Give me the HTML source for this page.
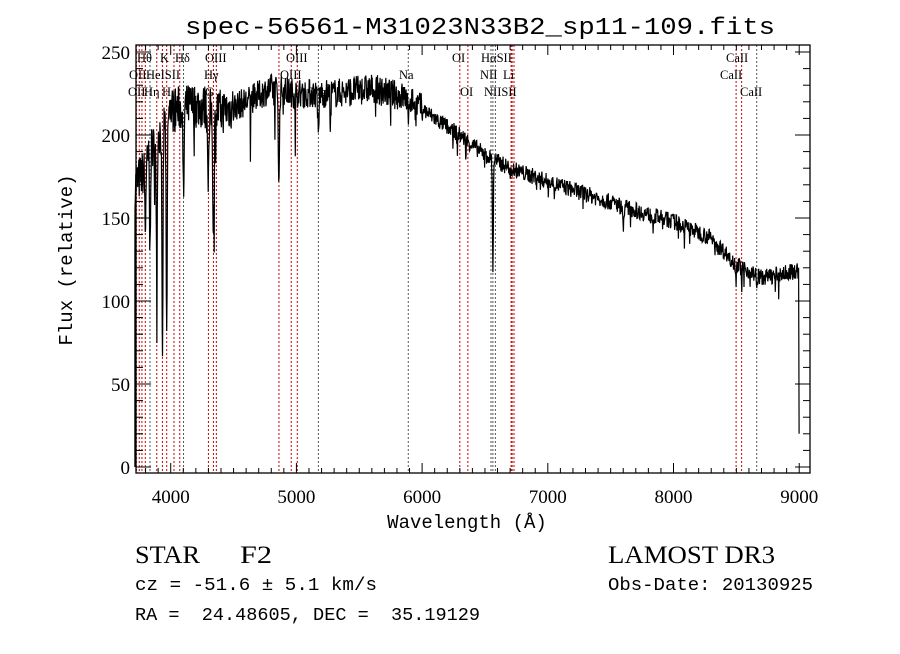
<!DOCTYPE html>
<html><head><meta charset="utf-8"><style>
html,body{margin:0;padding:0;background:#fff;}
.sf{font-family:"Liberation Serif","DejaVu Serif",serif;}
.mf{font-family:"Liberation Mono","DejaVu Sans Mono",monospace;}
</style></head><body>
<svg id="s" width="900" height="649" xmlns="http://www.w3.org/2000/svg">
<rect width="900" height="649" fill="#fff"/>
<text class="mf" x="480" y="34" font-size="24" text-anchor="middle" textLength="590" lengthAdjust="spacingAndGlyphs">spec-56561-M31023N33B2_sp11-109.fits</text>
<g id="lines"></g>
<path id="spec" fill="none" stroke="#000" stroke-width="1.2"/>
<g id="axes" stroke="#000" fill="none"></g>
<rect x="136" y="45" width="674" height="428" fill="none" stroke="#000" stroke-width="1.3"/>
<g id="labels" class="sf" font-size="19" text-anchor="end"></g>
<g class="sf" font-size="12.5" fill="#000">
<text x="137" y="62">Hθ</text><text x="160" y="62">K</text><text x="175" y="62">Hδ</text><text x="205" y="62">OIII</text><text x="286" y="62">OIII</text><text x="452" y="62">OI</text><text x="481" y="62">HαSII</text><text x="726" y="62">CaII</text>
<text x="129" y="79">OII</text><text x="146" y="79">HeISII</text><text x="204" y="79">Hγ</text><text x="280" y="79">OIII</text><text x="399" y="79">Na</text><text x="480" y="79">NII</text><text x="503" y="79">Li</text><text x="720" y="79">CaII</text>
<text x="128" y="96">OII</text><text x="144" y="96">Hη</text><text x="162" y="96">H</text><text x="205" y="96">G</text><text x="310" y="96">Mg</text><text x="460" y="96">OI</text><text x="484" y="96">NIISII</text><text x="740" y="96">CaII</text>
</g>
<text class="mf" x="467" y="528" font-size="19" text-anchor="middle">Wavelength (Å)</text>
<text class="mf" transform="translate(72,260) rotate(-90)" font-size="19" text-anchor="middle">Flux (relative)</text>
<text class="sf" x="135" y="563" font-size="25" textLength="65" lengthAdjust="spacingAndGlyphs">STAR</text>
<text class="sf" x="240" y="563" font-size="25" textLength="32" lengthAdjust="spacingAndGlyphs">F2</text>
<text class="sf" x="608" y="563" font-size="25" textLength="167" lengthAdjust="spacingAndGlyphs">LAMOST DR3</text>
<text class="mf" x="135" y="590" font-size="18" textLength="242" lengthAdjust="spacingAndGlyphs">cz = -51.6 ± 5.1 km/s</text>
<text class="mf" x="608" y="590" font-size="18" textLength="205" lengthAdjust="spacingAndGlyphs">Obs-Date: 20130925</text>
<text class="mf" x="135" y="620" font-size="18" xml:space="preserve" textLength="345" lengthAdjust="spacingAndGlyphs">RA =  24.48605, DEC =  35.19129</text>
</svg>
<script>
var NS="http://www.w3.org/2000/svg";
function X(l){return 133+(l-3700)*0.1257;}
function Y(f){return 467-f*1.66;}
function el(p,t,a){var e=document.createElementNS(NS,t);for(var k in a)e.setAttribute(k,a[k]);p.appendChild(e);return e;}
var lg=document.getElementById('lines');
var wl=[[3727,1],[3750,1],[3771,1],[3798,1],[3835,0],[3889,1],[3934,1],[3968,1],[4026,1],[4072,1],[4102,0],[4300,1],[4340,1],[4363,1],[4861,1],[4959,1],[5007,1],[5175,0],[5890,0],[6300,1],[6364,1],[6548,0],[6563,0],[6583,0],[6708,1],[6716,1],[6731,1],[8498,1],[8542,1],[8662,0]];
wl.forEach(function(w){var x=X(w[0]);el(lg,'line',{x1:x,x2:x,y1:45,y2:473,stroke:w[1]?'#c00':'#555','stroke-width':1,'stroke-dasharray':'2,2'});});
var ax=document.getElementById('axes'),lb=document.getElementById('labels');
for(var l=3800;l<=9000;l+=100){var x=X(l),m=(l%1000==0);el(ax,'line',{x1:x,x2:x,y1:473,y2:473-(m?10:5)});el(ax,'line',{x1:x,x2:x,y1:45,y2:45+(m?10:5)});
 if(m){var t=el(lb,'text',{x:x,y:503,'text-anchor':'middle'});t.textContent=l;}}
for(var f=0;f<=250;f+=10){var y=Y(f),m=(f%50==0);el(ax,'line',{x1:136,x2:136+(m?15:7),y1:y,y2:y});el(ax,'line',{x1:810,x2:810-(m?15:7),y1:y,y2:y});
 if(m){var t=el(lb,'text',{x:130,y:y+7});t.textContent=f;}}
var seed=7;function r(){seed=(seed*16807)%2147483647;return seed/2147483647;}
var cp=[[3720,170],[3800,180],[3900,200],[4000,215],[4200,218],[4400,214],[4600,220],[4800,228],[5000,225],[5300,225],[5600,228],[5900,222],[6100,210],[6300,200],[6500,188],[6700,180],[7000,172],[7400,162],[7800,152],[8000,148],[8300,138],[8500,122],[8700,114],[8980,118]];
function cont(l){for(var i=0;i<cp.length-1;i++){if(l<=cp[i+1][0]){var a=cp[i],b=cp[i+1];return a[1]+(b[1]-a[1])*(l-a[0])/(b[0]-a[0]);}}return 118;}
var abs=[[3798,40,5],[3835,60,5],[3889,90,5],[3934,150,6],[3968,140,6],[4102,60,6],[4300,40,8],[4340,70,8],[4861,60,6],[5175,30,6],[5270,15,4],[5890,20,5],[6563,65,5],[6280,10,4],[7600,15,5],[8498,10,4],[8542,12,4],[8662,12,4]];
var d="M"+X(3715).toFixed(1)+","+Y(0)+"L"+X(3715).toFixed(1)+","+Y(130);
for(var l=3716;l<=8990;l+=3){var f=cont(l);var amp=l<4500?14:(l<6000?9:5);f+=(r()-0.5)*amp*2;
 if(r()<0.03)f-=r()*(l<5000?40:12);
 abs.forEach(function(a){var q=(l-a[0])/a[2];f-=a[1]*Math.exp(-q*q);});
 d+="L"+X(l).toFixed(1)+","+Y(f).toFixed(1);}
d+="L"+X(8995).toFixed(1)+","+Y(120)+"L"+X(8999).toFixed(1)+","+Y(20);
document.getElementById('spec').setAttribute('d',d);
</script>
</body></html>
